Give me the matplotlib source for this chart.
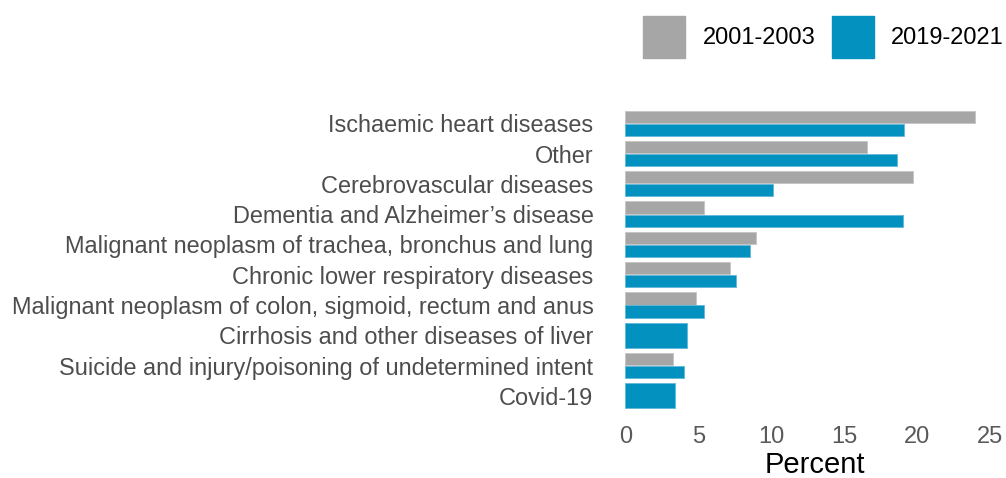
import matplotlib
matplotlib.use("Agg")
import matplotlib.pyplot as plt
import numpy as np

plt.rcParams['font.family'] = ['Liberation Sans', 'DejaVu Sans']

causes = [
    "Ischaemic heart diseases",
    "Other",
    "Cerebrovascular diseases",
    "Dementia and Alzheimer\u2019s disease",
    "Malignant neoplasm of trachea, bronchus and lung",
    "Chronic lower respiratory diseases",
    "Malignant neoplasm of colon, sigmoid, rectum and anus",
    "Cirrhosis and other diseases of liver",
    "Suicide and injury/poisoning of undetermined intent",
    "Covid-19",
]
# None = cause not in the top ten for that period
pct_2001 = [24.0, 16.6, 19.75, 5.4, 9.0, 7.2, 4.85, None, 3.25, None]
pct_2019 = [19.1, 18.65, 10.15, 19.05, 8.55, 7.6, 5.4, 4.2, 4.0, 3.4]

grey = "#a6a6a6"
blue = "#0391bf"

fig = plt.figure(figsize=(10.06, 4.78), dpi=100)
ax = fig.add_axes([0.6216, 0.1339, 0.3766, 0.6462])

w = 0.405
off = 0.215
for i, (a, b) in enumerate(zip(pct_2001, pct_2019)):
    if a is None:
        ax.barh(i, b, height=2 * w + 0.025, color=blue, edgecolor="#5fb8d8", linewidth=0.6)
        continue
    ax.barh(i - off, a, height=w, color=grey, edgecolor="#c4c4c4", linewidth=0.6)
    ax.barh(i + off, b, height=w, color=blue, edgecolor="#5fb8d8", linewidth=0.6)

ax.set_xlim(0, 26)
ax.set_ylim(len(causes) - 0.4, -0.6)
ax.set_yticks(np.arange(len(causes)))
ax.set_yticklabels(causes, fontsize=16.9, color="#4d4d4d")
ax.set_xticks([0, 5, 10, 15, 20, 25])
ax.tick_params(axis="x", labelsize=17, labelcolor="#595959", length=0, pad=9)
ax.tick_params(axis="y", length=0, pad=23)
ax.set_xlabel("Percent", fontsize=21, color="black", labelpad=2)
for s in ax.spines.values():
    s.set_visible(False)

handles = [plt.Rectangle((0, 0), 1, 1, color=grey), plt.Rectangle((0, 0), 1, 1, color=blue)]
fig.legend(handles, ["2001-2003", "2019-2021"], loc="upper right",
           bbox_to_anchor=(1004 / 1006, 1 - 16 / 478), ncol=2, frameon=False, fontsize=17,
           handlelength=1.78, handleheight=2.36, handletextpad=0.72, columnspacing=0.72,
           borderaxespad=0, borderpad=0)

fig.savefig("out.png", dpi=100)
